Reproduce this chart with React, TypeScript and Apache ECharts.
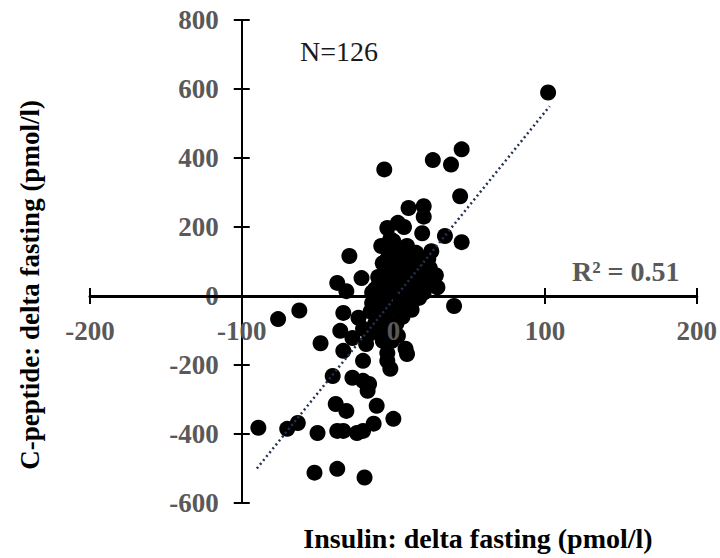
import React, { useEffect, useRef } from 'react';
import * as echarts from 'echarts';

// Insulin delta fasting (x) and C-peptide delta fasting (y), pmol/l
const insulinDelta = [
  102, 45, 26, 38, 44, 34, 45, 19, 10, 20,
  20, 3, -6, -4, -2, -8, 9, 0, -4, 0,
  11, 24, -29, -21, -37, -31, 29, 40, -62, -76,
  -33, -35, -23, -48, -14, -14, -7, -4, -27, -20,
  -11, -18, -8, 24, 23, 6, 11, 13, 4, 8,
  25, -33, -20, -40, -27, -20, -17, -11, -38, -31,
  0, -13, -89, -70, -63, -50, -37, -33, -24, -20,
  -4, -2, 9, -7, -52, -37, -19, -16, -2, 2,
  5, -5, 8, 15, 12, -3, 0, 3, -8, -5,
  2, -2, 6, 18, 16, 7, -10, -12, 0, 10,
  20, -6, 4, 14, -1, 3, -9, 1, 6, -15,
  17, 9, -4, 21, -10, 2, -4, 12, -16, 5,
  28, -3, 15, -10, -12, 7,
];
const cpeptideDelta = [
  590, 425, 394, 381, 289, 174, 156, 182, 255, 260,
  230, 212, 367, 197, 165, 145, 145, 159, 107, 110,
  110, 81, 116, 52, 38, 14, 25, -29, -42, -67,
  -49, -101, -63, -137, 10, -20, 95, 72, -122, -95,
  -63, -139, -110, 64, 107, 92, 35, -14, -43, -153,
  130, -159, -188, -232, -237, -246, -275, -318, -313, -333,
  -356, -370, -382, -385, -368, -397, -391, -391, -397, -391,
  -165, -211, -168, -130, -512, -501, -526, -255, 40, 55,
  20, 25, 60, 75, 0, -10, -25, 5, -40, -60,
  -80, -100, -20, 30, 50, 80, 55, -80, 0, 15,
  10, 5, 120, 95, -130, -115, -15, 85, -60, -45,
  -5, 40, -75, 45, 30, 30, -188, -40, -110, -5,
  60, 130, 125, -25, 20, 200,
];

// Linear trend line end points
const trendX = [-90, 103];
const trendY = [-500, 550];

const xMin = -200;
const xMax = 200;
const xStep = 100;
const yMin = -600;
const yMax = 800;
const yStep = 200;
// where the axes cross each other
const xCross = -100;
const yCross = 0;

const nLabel = 'N=126';
const r2Label = 'R\u00b2 = 0.51';
const xTitle = 'Insulin: delta fasting (pmol/l)';
const yTitle = 'C-peptide: delta fasting (pmol/l)';

const FONT = '"Liberation Serif", "Times New Roman", serif';
const GREY = '#595959';

export default function App() {
  const ref = useRef<HTMLDivElement>(null);

  useEffect(() => {
    if (!ref.current) return;
    const chart = echarts.init(ref.current, undefined, { renderer: 'svg' });

    const W = 720;
    const H = 558;
    const gridLeft = 90;
    const gridRight = 23;
    const gridTop = 20;
    const gridBottom = 55;
    const plotW = W - gridLeft - gridRight;
    const plotH = H - gridTop - gridBottom;
    const yAxisOffset = -((xCross - xMin) / (xMax - xMin)) * plotW;
    const xAxisOffset = -((yCross - yMin) / (yMax - yMin)) * plotH;

    const points = insulinDelta.map((x, i) => [x, cpeptideDelta[i]]);
    const trend = trendX.map((x, i) => [x, trendY[i]]);

    const tickLabel = {
      fontFamily: FONT,
      fontWeight: 'bold' as const,
      fontSize: 27,
      color: GREY,
    };

    chart.setOption({
      animation: false,
      backgroundColor: '#ffffff',
      grid: { left: gridLeft, right: gridRight, top: gridTop, bottom: gridBottom, containLabel: false },
      xAxis: [
        {
          type: 'value',
          position: 'bottom',
          offset: xAxisOffset,
          min: xMin,
          max: xMax,
          interval: xStep,
          z: 6,
          axisLine: { show: true, onZero: false, lineStyle: { color: '#000', width: 3 } },
          axisTick: { show: true, inside: false, length: 8, lineStyle: { color: '#000', width: 2 } },
          axisLabel: { ...tickLabel, margin: 21 },
          splitLine: { show: false },
        },
        {
          type: 'value',
          position: 'bottom',
          offset: xAxisOffset,
          min: xMin,
          max: xMax,
          interval: xStep,
          axisLine: { show: false, onZero: false },
          axisTick: { show: true, inside: true, length: 8, lineStyle: { color: '#000', width: 2 } },
          axisLabel: { show: false },
          splitLine: { show: false },
        },
      ],
      yAxis: [
        {
          type: 'value',
          position: 'left',
          offset: yAxisOffset,
          min: yMin,
          max: yMax,
          interval: yStep,
          axisLine: { show: true, onZero: false, lineStyle: { color: '#000', width: 2 } },
          axisTick: { show: true, inside: false, length: 8, lineStyle: { color: '#000', width: 2 } },
          axisLabel: { ...tickLabel, margin: 23 },
          splitLine: { show: false },
        },
        {
          type: 'value',
          position: 'left',
          offset: yAxisOffset,
          min: yMin,
          max: yMax,
          interval: yStep,
          axisLine: { show: false, onZero: false },
          axisTick: { show: true, inside: true, length: 8, lineStyle: { color: '#000', width: 2 } },
          axisLabel: { show: false },
          splitLine: { show: false },
        },
      ],
      series: [
        {
          type: 'scatter',
          xAxisIndex: 0,
          yAxisIndex: 0,
          data: points,
          symbol: 'circle',
          symbolSize: 16,
          itemStyle: { color: '#000000', opacity: 1 },
          z: 3,
        },
        {
          type: 'line',
          xAxisIndex: 0,
          yAxisIndex: 0,
          data: trend,
          symbol: 'none',
          lineStyle: { color: '#23324f', width: 2.5, type: [2, 3] },
          z: 4,
        },
      ],
      graphic: [
        {
          type: 'text',
          left: 300,
          top: 37,
          style: { text: nLabel, fontFamily: FONT, fontSize: 28, fill: '#1a1a1a' },
        },
        {
          type: 'text',
          left: 572,
          top: 257,
          style: { text: r2Label, fontFamily: FONT, fontSize: 28, fontWeight: 'bold', fill: GREY },
        },
        {
          type: 'text',
          x: 478,
          y: 538,
          style: {
            text: xTitle,
            fontFamily: FONT,
            fontSize: 28,
            fontWeight: 'bold',
            fill: '#000',
            align: 'center',
            verticalAlign: 'middle',
          },
        },
        {
          type: 'text',
          x: 30,
          y: 285,
          rotation: Math.PI / 2,
          style: {
            text: yTitle,
            fontFamily: FONT,
            fontSize: 27,
            fontWeight: 'bold',
            fill: '#000',
            align: 'center',
            verticalAlign: 'middle',
          },
        },
      ],
    });

    return () => chart.dispose();
  }, []);

  return (
    <div
      ref={ref}
      style={{ position: 'absolute', left: 0, top: 0, width: 720, height: 558 }}
    />
  );
}
